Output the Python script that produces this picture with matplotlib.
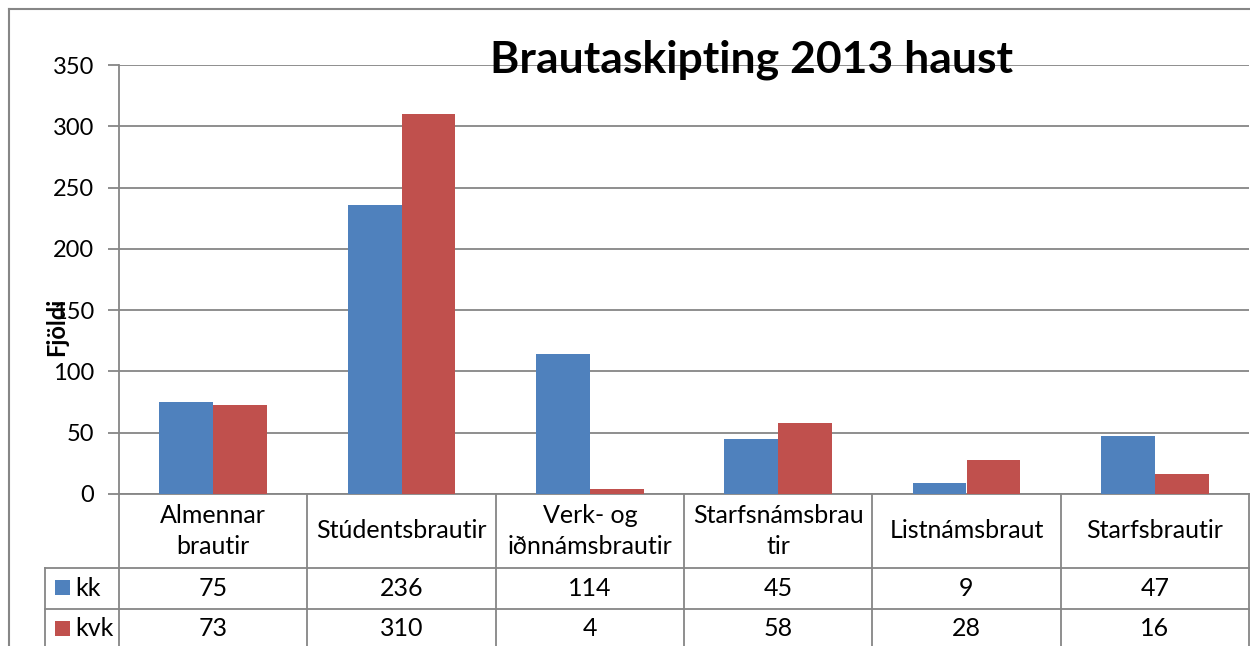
import matplotlib.pyplot as plt
import matplotlib.transforms as mtransforms
from matplotlib.lines import Line2D
import numpy as np

# data
categories = ['Almennar\nbrautir', 'Stúdentsbrautir', 'Verk- og\niðnnámsbrautir',
              'Starfsnámsbrau\ntir', 'Listnámsbraut', 'Starfsbrautir']
kk = [75, 236, 114, 45, 9, 47]
kvk = [73, 310, 4, 58, 28, 16]
series_names = ['kk', 'kvk']
colors = ['#4F81BD', '#C0504D']

plt.rcParams['font.family'] = ['Lato', 'DejaVu Sans']
W, H = 1250, 646
fig = plt.figure(figsize=(12.5, 6.46), dpi=100)

left, right, top, bottom = 119, 1249, 65, 494
ax = fig.add_axes([left / W, (H - bottom) / H, (right - left) / W, (bottom - top) / H])

x = np.arange(len(categories))
bw = 0.285
ax.bar(x - bw / 2, kk, bw, color=colors[0], zorder=3)
ax.bar(x + bw / 2, kvk, bw, color=colors[1], zorder=3)

ax.set_xlim(-0.5, len(categories) - 0.5)
ax.set_ylim(0, 350)
ax.set_yticks(range(0, 351, 50))
ax.yaxis.grid(True, color='#868686', linewidth=1.3, zorder=0)
ax.tick_params(axis='y', length=8, width=1.3, color='#868686', labelsize=17, pad=10)
ax.set_xticks([])
for s in ['top', 'right']:
    ax.spines[s].set_visible(False)
for s in ['left', 'bottom']:
    ax.spines[s].set_color('#868686')
    ax.spines[s].set_linewidth(1.3)

fig.text(57 / W, 1 - 327 / H, 'Fjöldi', rotation=90, fontsize=17, fontweight='bold',
         ha='center', va='center')
fig.text(752 / W, 1 - 60 / H, 'Brautaskipting 2013 haust', fontsize=32,
         fontweight='bold', ha='center', va='center')

# data table below the axis
tr = mtransforms.blended_transform_factory(ax.transData, ax.transAxes)
ph = bottom - top
def yfrac(py):
    return (bottom - py) / ph

y_head = yfrac(568)
y_kk = yfrac(609)
y_end = yfrac(660)
x_lab = -0.5 + (45 - left) / ((right - left) / len(categories))
lc = '#868686'
lw = 1.3
for b in np.arange(-0.5, len(categories), 1.0):
    ax.plot([b, b], [0, y_end], color=lc, lw=lw, transform=tr, clip_on=False)
ax.plot([x_lab, x_lab], [y_head, y_end], color=lc, lw=lw, transform=tr, clip_on=False)
for yy in [y_head, y_kk]:
    ax.plot([x_lab, len(categories) - 0.5], [yy, yy], color=lc, lw=lw,
            transform=tr, clip_on=False)

for i, c in enumerate(categories):
    ax.text(i, (yfrac(494) + y_head) / 2, c, transform=tr, ha='center', va='center',
            fontsize=18, linespacing=1.45)
    ax.text(i, (y_head + y_kk) / 2, str(kk[i]), transform=tr, ha='center',
            va='center', fontsize=18)
    ax.text(i, yfrac(629), str(kvk[i]), transform=tr, ha='center',
            va='center', fontsize=18)

# legend keys in the table
for name, col, cy in zip(series_names, colors, [588, 629]):
    fig.patches.append(plt.Rectangle((55 / W, 1 - (cy + 7) / H), 15 / W, 15 / H,
                                     facecolor=col, transform=fig.transFigure))
    fig.text(75 / W, 1 - cy / H, name, fontsize=18, ha='left', va='center')

# outer chart border
fig.add_artist(Line2D([9 / W, 9 / W], [0, 1 - 9 / H], color=lc, lw=1.5))
fig.add_artist(Line2D([9 / W, 1], [1 - 9 / H, 1 - 9 / H], color=lc, lw=1.5))

fig.savefig('out.png', dpi=100)
